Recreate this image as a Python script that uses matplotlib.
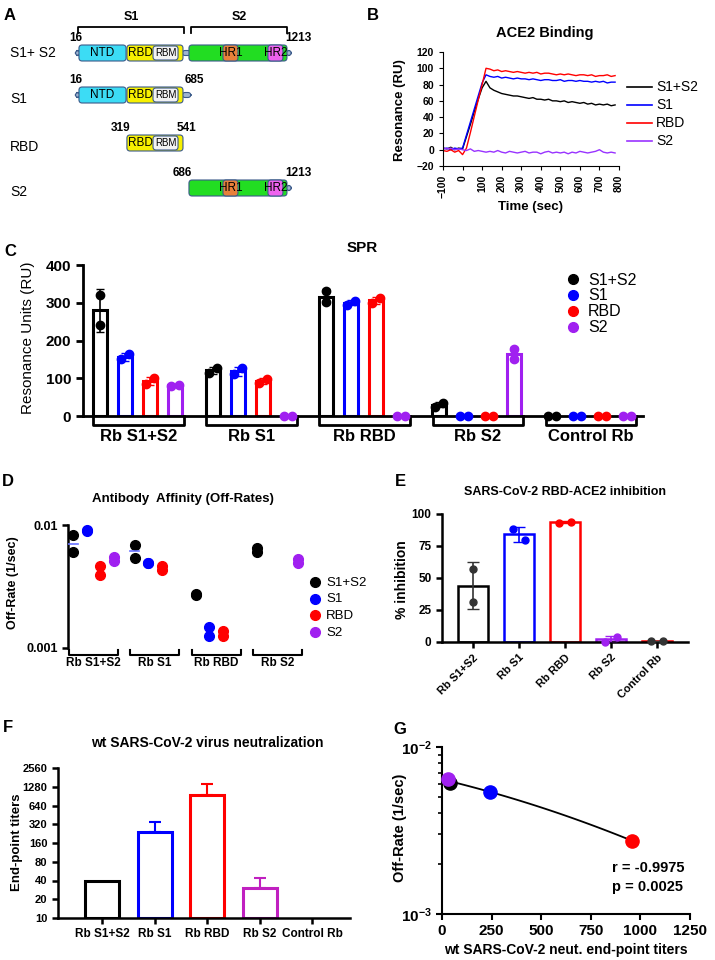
import numpy as np
import matplotlib
matplotlib.use("Agg")
import matplotlib.pyplot as plt
from matplotlib.lines import Line2D
from matplotlib.patches import FancyBboxPatch
from matplotlib.transforms import blended_transform_factory

plt.rcParams['font.family'] = ['Liberation Sans', 'DejaVu Sans']
plt.rcParams['mathtext.fontset'] = 'custom'
plt.rcParams['mathtext.rm'] = 'Liberation Sans'
plt.rcParams['mathtext.bf'] = 'Liberation Sans:bold'

# ---------------- data ----------------
# A: spike constructs (residue numbers) and schematic domain spans
constructs = ["S1+ S2", "S1", "RBD", "S2"]
construct_first = [16, 16, 319, 686]
construct_last = [1213, 685, 541, 1213]
domain_names = ["NTD", "RBD", "RBM", "S2", "HR1", "HR2"]
domain_start = [16, 288, 436, 640, 833, 1088]
domain_end = [283, 606, 578, 1196, 918, 1173]
construct_domains = [["NTD", "RBD", "RBM", "S2", "HR1", "HR2"],
                     ["NTD", "RBD", "RBM"],
                     ["RBD", "RBM"],
                     ["S2", "HR1", "HR2"]]

# B: ACE2 binding sensorgrams
time_s = np.arange(-100, 781, 20)
ru_s1s2 = [2, 1, 3, 0, 2, 1, 16, 31, 47, 62, 76, 84,
           76, 73, 71, 69, 68, 67, 66, 66, 65, 64, 63, 64, 62, 62, 61, 62, 60, 60, 59,
           60, 58, 59, 58, 57, 58, 56, 57, 55, 56, 55, 56, 54, 55]
ru_s1 = [1, 2, 0, 2, 1, 2, 18, 34, 50, 66, 82, 92,
         90, 89, 90, 88, 89, 88, 87, 88, 87, 87, 86, 87, 86, 85, 86, 86, 85, 85, 86,
         84, 85, 85, 84, 85, 84, 84, 83, 84, 83, 84, 82, 83, 83]
ru_rbd = [-1, -2, 0, -3, -1, -6, 2, 21, 41, 61, 80, 100,
          99, 97, 98, 96, 97, 96, 95, 96, 95, 94, 95, 94, 95, 93, 94, 94, 93, 92, 93,
          92, 93, 92, 91, 92, 92, 91, 92, 90, 91, 91, 92, 90, 91]
ru_s2 = [2, 1, 2, 0, 1, 0, -1, 1, -2, -1, -2, -3,
         -2, -3, -1, -3, -4, -2, -3, -4, -3, -2, -4, -3, -3, -5, -3, -2, -4, -3, -4,
         -3, -5, -3, -4, -2, -3, -4, -3, -2, 0, -3, -4, -3, -4]

# C: SPR binding, replicate 1 and 2 (rows: antibody, cols: antigen)
antigens = ["S1+S2", "S1", "RBD", "S2"]
groups = ["Rb S1+S2", "Rb S1", "Rb RBD", "Rb S2", "Control Rb"]
spr_rep1 = [[320, 150, 85, 80], [115, 110, 87, 0], [330, 295, 300, 0],
            [25, 0, 0, 178], [0, 0, 0, 0]]
spr_rep2 = [[240, 165, 100, 83], [128, 127, 98, 0], [303, 305, 312, 0],
            [35, 0, 0, 152], [0, 0, 0, 0]]

# D: off-rates (1/sec)
nan = np.nan
off_rep1 = [[0.0083, 0.0089, 0.0046, 0.0055], [0.0069, 0.0049, 0.0046, nan],
            [0.00275, 0.00148, 0.00138, nan], [0.0065, nan, nan, 0.0053]]
off_rep2 = [[0.0060, 0.0091, 0.0039, 0.0051], [0.0054, 0.0049, 0.0043, nan],
            [0.0027, 0.00126, 0.00126, nan], [0.0060, nan, nan, 0.0049]]

# E: RBD-ACE2 inhibition (%)
inhib_rep1 = [57, 88, 93, 0, 0.5]
inhib_rep2 = [31, 80, 94, 4, 0.5]

# F: neutralization end-point titers
titers = [40, 240, 960, 30, nan]
titer_upper = [nan, 350, 1420, 44, nan]

# G: off-rate vs titer
g_titer = [40, 240, 960, 30]
g_offrate = [0.0061, 0.0054, 0.00274, 0.0064]

# ---------------- figure ----------------
W, H = 715, 960
fig = plt.figure(figsize=(W / 100, H / 100), dpi=100)


def box(l, t, r, b):
    return [l / W, 1 - b / H, (r - l) / W, (b - t) / H]


def ftext(x, y, s, **kw):
    kw.setdefault('ha', 'center')
    kw.setdefault('va', 'center')
    fig.text(x / W, 1 - y / H, s, **kw)


def fmark(x, y, color, ms):
    fig.add_artist(Line2D([x / W], [1 - y / H], marker='o', color=color, ms=ms,
                          ls='none', transform=fig.transFigure))


def fline(x0, x1, y, color, lw=1):
    fig.add_artist(Line2D([x0 / W, x1 / W], [1 - y / H, 1 - y / H], color=color,
                          lw=lw, transform=fig.transFigure))


col4 = ["black", "#0000ff", "#ff0000", "#a020f0"]

# ---------- A ----------
ax = fig.add_axes(box(0, 0, 315, 230))
ax.set_xlim(-432, 1355)
ax.set_ylim(230, 0)
ax.axis('off')
dom_col = {"NTD": "#3cdcf5", "RBD": "#f7f000", "RBM": "#f2f2f2", "S2": "#22dd22",
           "HR1": "#e8803a", "HR2": "#ee62ee"}
edge = "#3b5a8a"
row_y = [53, 95, 143, 188]
asp = 0.176


def rbox(x0, x1, yc, h, fc, z=2):
    p = FancyBboxPatch((x0, yc - h / 2), x1 - x0, h,
                       boxstyle="round,pad=0,rounding_size=18", mutation_aspect=asp,
                       fc=fc, ec=edge, lw=0.8, zorder=z)
    ax.add_patch(p)


for i, name in enumerate(constructs):
    y = row_y[i]
    doms = construct_domains[i]
    span = {d: (domain_start[domain_names.index(d)], domain_end[domain_names.index(d)])
            for d in domain_names}
    left = min(span[d][0] for d in doms)
    right = max(span[d][1] for d in doms)
    if "NTD" in doms:
        rbox(left - 20, left + 5, y, 5, "#9fb4d0", 1)
    if "S2" in doms:
        rbox(right - 5, right + 25, y, 5, "#9fb4d0", 1)
        right = right + 25
    if "RBD" in doms and name != "RBD":
        rbox(span["RBD"][1] - 5, span["RBD"][1] + 45, y, 5, "#9fb4d0", 1)
        if name == "S1":
            right = span["RBD"][1] + 45
    for d in doms:
        z = 3 if d in ("RBM", "HR1", "HR2") else 2
        hh = 14 if d == "RBM" else 16
        rbox(span[d][0], span[d][1], y, hh, dom_col[d], z)
    for d in doms:
        if d == "S2":
            continue
        if d == "RBD":
            xc = (span["RBD"][0] + span["RBM"][0]) / 2
        else:
            xc = (span[d][0] + span[d][1]) / 2
        ax.text(xc, y, d, ha='center', va='center', fontsize=7 if d == "RBM" else 8.5,
                zorder=5)
    ax.text(left + 17, y - 15, str(construct_first[i]), ha='right', va='center',
            fontsize=8.5, fontweight='bold')
    ax.text(right - 34, y - 15, str(construct_last[i]), ha='left', va='center',
            fontsize=8.5, fontweight='bold')
    ax.text(-375, y + (0 if i == 0 else 4), name, ha='left', va='center', fontsize=10)

for lab, x0, x1 in [("S1", 10, 612), ("S2", 651, 1196)]:
    ax.plot([x0, x0, x1, x1], [33, 27, 27, 33], color='black', lw=1.3)
    ax.text((x0 + x1) / 2, 17, lab, ha='center', va='center', fontsize=9,
            fontweight='bold')
ftext(10, 15, "A", fontsize=12, fontweight='bold')

# ---------- B ----------
ax = fig.add_axes(box(443, 52, 619, 166))
b_series = [ru_s1s2, ru_s1, ru_rbd, ru_s2]
b_cols = ["black", "#0000ff", "#ff0000", "#9933ff"]
for ys, c in zip(b_series, b_cols):
    ax.plot(time_s, ys, color=c, lw=1)
ax.set_xlim(-100, 800)
ax.set_ylim(-20, 120)
ax.set_xticks(np.arange(-100, 801, 100))
ax.set_yticks(np.arange(-20, 121, 20))
ax.tick_params(labelsize=7.5, length=3, width=0.8)
ax.tick_params(axis='x', labelrotation=90)
for lab in ax.get_xticklabels() + ax.get_yticklabels():
    lab.set_fontweight('bold')
for s in ['top', 'right']:
    ax.spines[s].set_visible(False)
for s in ['left', 'bottom']:
    ax.spines[s].set_linewidth(0.8)
ftext(545, 33, "ACE2 Binding", fontsize=10.5, fontweight='bold')
ftext(531, 207, "Time (sec)", fontsize=9.5, fontweight='bold')
ftext(400, 110, "Resonance (RU)", fontsize=9.5, fontweight='bold', rotation=90)
for i, (lab, c) in enumerate(zip(antigens, b_cols)):
    fline(627, 652, 87 + 18 * i, c, 1.2)
    ftext(656, 87 + 18 * i, lab, fontsize=10, ha='left')
ftext(373, 16, "B", fontsize=12, fontweight='bold')

# ---------- C ----------
ax = fig.add_axes(box(83, 265, 643, 416))
gx = np.arange(len(groups))
step = 0.221
r1 = np.array(spr_rep1, float)
r2 = np.array(spr_rep2, float)
mean_c = (r1 + r2) / 2
sd_c = np.abs(r1 - r2) / np.sqrt(2)
for k, c in enumerate(col4):
    xk = gx + (k - 1.5) * step
    ax.bar(xk, mean_c[:, k], width=0.12, facecolor='white', edgecolor=c, lw=2.2,
           zorder=2)
    ax.errorbar(xk, mean_c[:, k], yerr=sd_c[:, k], fmt='none', ecolor=c, elinewidth=1.2,
                capsize=3, zorder=3)
    for g in range(len(groups)):
        a, b = r1[g, k], r2[g, k]
        d = 0.035 if abs(a - b) < 20 else 0
        ax.plot([xk[g] - d, xk[g] + d], [a, b], 'o', color=c, ms=6, zorder=4,
                clip_on=False)
ax.set_xlim(-0.48, 4.47)
ax.set_ylim(0, 400)
ax.set_yticks([0, 100, 200, 300, 400])
ax.set_xticks([])
ax.tick_params(axis='y', labelsize=11, width=2, length=5)
for lab in ax.get_yticklabels():
    lab.set_fontweight('bold')
for s in ['top', 'right']:
    ax.spines[s].set_visible(False)
for s in ['left', 'bottom']:
    ax.spines[s].set_linewidth(2)
tr = blended_transform_factory(ax.transData, ax.transAxes)
for g, name in enumerate(groups):
    ax.plot([g - 0.39, g - 0.39, g + 0.41, g + 0.41], [0, -0.06, -0.06, 0], color='black',
            lw=2, transform=tr, clip_on=False)
    ax.text(g + 0.01, -0.135, name, transform=tr, ha='center', va='center', fontsize=12,
            fontweight='bold')
ftext(362, 248, "SPR", fontsize=11, fontweight='bold')
ftext(28, 338, "Resonance Units (RU)", fontsize=11, rotation=90)
for i, (lab, c) in enumerate(zip(antigens, col4)):
    fmark(573, 279 + 16 * i, c, 7)
    ftext(588, 280 + 16 * i, lab, fontsize=11.5, ha='left')
ftext(10, 252, "C", fontsize=12, fontweight='bold')

# ---------- D ----------
ax = fig.add_axes(box(68, 525, 303, 648))
o1 = np.array(off_rep1)
o2 = np.array(off_rep2)
gd = np.arange(o1.shape[0])
for k, c in enumerate(col4):
    xk = gd + (k - 1.5) * 0.222
    for g in gd:
        ax.plot([xk[g], xk[g]], [o1[g, k], o2[g, k]], 'o', color=c, ms=7, zorder=3,
                clip_on=False)
        if k == 0 and g < 2:
            ax.plot([xk[g] - 0.08, xk[g] + 0.08], [np.sqrt(o1[g, k] * o2[g, k])] * 2,
                    color='#6670ff', lw=1.2, zorder=4)
ax.set_yscale('log')
ax.set_ylim(0.001, 0.01)
ax.set_xlim(-0.42, 3.42)
ax.set_yticks([0.001, 0.01])
ax.set_yticklabels(["0.001", "0.01"])
ax.minorticks_off()
ax.set_xticks([])
ax.tick_params(axis='y', labelsize=9, width=1.8, length=4)
for lab in ax.get_yticklabels():
    lab.set_fontweight('bold')
for s in ['top', 'right', 'bottom']:
    ax.spines[s].set_visible(False)
ax.spines['left'].set_linewidth(1.8)
tr = blended_transform_factory(ax.transData, ax.transAxes)
for g, name in enumerate(groups[:4]):
    ax.plot([g - 0.4, g - 0.4, g + 0.4, g + 0.4], [-0.016, -0.057, -0.057, -0.016],
            color='black', lw=1.5, transform=tr, clip_on=False)
    ax.text(g, -0.125, name, transform=tr, ha='center',
            va='center', fontsize=8.5, fontweight='bold')
ftext(183, 499, "Antibody  Affinity (Off-Rates)", fontsize=9.5, fontweight='bold')
ftext(13, 583, "Off-Rate (1/sec)", fontsize=9, fontweight='bold', rotation=90)
for i, (lab, c) in enumerate(zip(antigens, col4)):
    fmark(315, 582 + 16.5 * i, c, 7)
    ftext(326, 583 + 16.5 * i, lab, fontsize=9.5, ha='left')
ftext(8, 481, "D", fontsize=12, fontweight='bold')

# ---------- E ----------
ax = fig.add_axes(box(442, 514, 688, 642))
e_cols = ["black", "#0000ff", "#ff0000", "#a020f0", "#ff0000"]
dot_cols = ["#333333", "#0000ff", "#ff0000", "#a020f0", "#333333"]
i1 = np.array(inhib_rep1, float)
i2 = np.array(inhib_rep2, float)
mean_e = (i1 + i2) / 2
sd_e = np.abs(i1 - i2) / np.sqrt(2)
xe = np.arange(len(groups))
ax.bar(xe, mean_e, width=0.65, facecolor='white', edgecolor=e_cols, lw=1.8, zorder=2)
for g in xe:
    ax.errorbar(g, mean_e[g], yerr=sd_e[g], fmt='none', ecolor=dot_cols[g],
                elinewidth=1.2, capsize=4, zorder=3)
    d = 0.13 if abs(i1[g] - i2[g]) < 10 else 0
    ax.plot([g - d, g + d], [i1[g], i2[g]], 'o', color=dot_cols[g], ms=5, zorder=4,
            clip_on=False)
ax.set_xlim(-0.67, 4.67)
ax.set_ylim(0, 100)
ax.set_yticks([0, 25, 50, 75, 100])
ax.set_xticks(xe)
ax.set_xticklabels(groups, rotation=45, ha='right', rotation_mode='anchor')
ax.tick_params(labelsize=8.5, width=1.8, length=4)
ax.tick_params(axis='x', labelsize=8)
for lab in ax.get_xticklabels() + ax.get_yticklabels():
    lab.set_fontweight('bold')
for s in ['top', 'right']:
    ax.spines[s].set_visible(False)
for s in ['left', 'bottom']:
    ax.spines[s].set_linewidth(1.8)
ftext(565, 492, "SARS-CoV-2 RBD-ACE2 inhibition", fontsize=9, fontweight='bold')
ftext(402, 580, "% inhibition", fontsize=10, fontweight='bold', rotation=90)
ftext(400, 481, "E", fontsize=12, fontweight='bold')

# ---------- F ----------
ax = fig.add_axes(box(58, 768, 350, 918))
f_cols = ["black", "#0000ff", "#ff0000", "#c020c0", "black"]
tt = np.array(titers, float)
tu = np.array(titer_upper, float)
xf = np.arange(len(groups))
for g in xf:
    if np.isnan(tt[g]):
        continue
    ax.bar(g, tt[g] - 10, bottom=10, width=0.65, facecolor='white', edgecolor=f_cols[g],
           lw=2.2, zorder=2)
    if not np.isnan(tu[g]):
        ax.errorbar(g, tt[g], yerr=[[0], [tu[g] - tt[g]]], fmt='none', ecolor=f_cols[g],
                    elinewidth=1.5, capsize=4, capthick=1.5, zorder=1)
ax.set_yscale('log', base=2)
ax.set_ylim(10, 2560)
fy = [10, 20, 40, 80, 160, 320, 640, 1280, 2560]
ax.set_yticks(fy)
ax.set_yticklabels([str(v) for v in fy])
ax.minorticks_off()
ax.set_xlim(-0.84, 4.72)
ax.set_xticks(xf)
ax.set_xticklabels(groups)
ax.tick_params(labelsize=8, width=1.8, length=4)
ax.tick_params(axis='x', labelsize=8.5, pad=3)
for lab in ax.get_xticklabels() + ax.get_yticklabels():
    lab.set_fontweight('bold')
for s in ['top', 'right']:
    ax.spines[s].set_visible(False)
for s in ['left', 'bottom']:
    ax.spines[s].set_linewidth(1.8)
ftext(207, 743, "wt SARS-CoV-2 virus neutralization", fontsize=10, fontweight='bold')
ftext(17, 842, "End-point titers", fontsize=9.5, fontweight='bold', rotation=90)
ftext(8, 728, "F", fontsize=12, fontweight='bold')

# ---------- G ----------
ax = fig.add_axes(box(442, 747, 690, 914))
gx_ = np.array(g_titer, float)
gy_ = np.array(g_offrate, float)
coef = np.polyfit(gx_, np.log10(gy_), 2)
xs = np.linspace(gx_.min() + 10, gx_.max(), 100)
ax.plot(xs, 10 ** np.polyval(coef, xs), color='black', lw=1.3, zorder=2)
for xv, yv, c in zip(gx_, gy_, col4):
    ax.plot(xv, yv, 'o', color=c, ms=9.5, zorder=3, clip_on=False)
ax.set_yscale('log')
ax.set_ylim(1e-3, 1e-2)
ax.set_xlim(0, 1250)
ax.set_xticks(np.arange(0, 1251, 250))
ax.set_yticks([1e-3, 1e-2])
ax.set_yticklabels([r'$\mathbf{10^{-3}}$', r'$\mathbf{10^{-2}}$'])
ax.tick_params(labelsize=11, width=1.5, length=4)
ax.tick_params(axis='y', which='minor', width=1.2, length=3, labelleft=False)
for lab in ax.get_xticklabels():
    lab.set_fontweight('bold')
for s in ['top', 'right']:
    ax.spines[s].set_visible(False)
for s in ['left', 'bottom']:
    ax.spines[s].set_linewidth(1.5)
ftext(612, 868, "r = -0.9975", fontsize=10.5, fontweight='bold', ha='left')
ftext(612, 887, "p = 0.0025", fontsize=10.5, fontweight='bold', ha='left')
ftext(566, 950, "wt SARS-CoV-2 neut. end-point titers", fontsize=10, fontweight='bold')
ftext(400, 828, "Off-Rate (1/sec)", fontsize=10.5, fontweight='bold', rotation=90)
ftext(400, 729, "G", fontsize=12, fontweight='bold')

fig.savefig("out.png", dpi=100)
